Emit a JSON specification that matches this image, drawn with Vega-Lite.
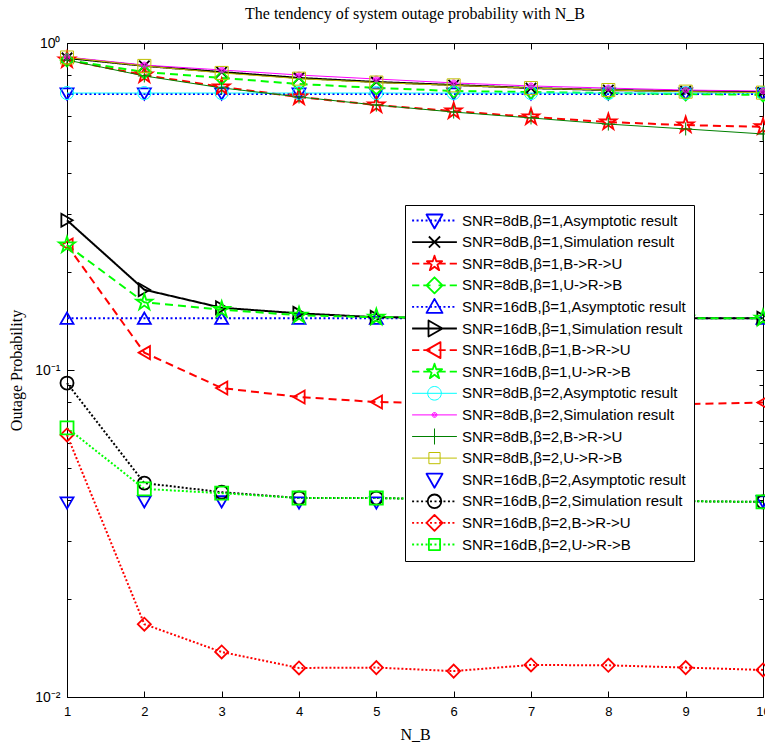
{
  "$schema": "https://vega.github.io/schema/vega-lite/v6.json",
  "width": 696,
  "height": 654,
  "autosize": {"type": "none"},
  "padding": {"left": 67, "top": 43, "right": 2, "bottom": 53},
  "background": "white",
  "title": {"text": "The tendency of system outage probability with N_B", "font": "Liberation Serif", "fontSize": 16, "fontWeight": "normal", "color": "black", "offset": 14, "anchor": "middle"},
  "config": {
    "view": {"stroke": "black", "strokeWidth": 1},
    "axis": {"grid": false, "domainColor": "black", "tickColor": "black", "labelColor": "black", "titleColor": "black", "labelFont": "Liberation Sans", "labelFontSize": 13, "titleFont": "Liberation Serif", "titleFontSize": 16, "titleFontWeight": "normal"}
  },
  "data": {"values": [
    {"s":"SNR=8dB,β=1,Asymptotic result","n":1,"p":0.698},{"s":"SNR=8dB,β=1,Asymptotic result","n":2,"p":0.698},{"s":"SNR=8dB,β=1,Asymptotic result","n":3,"p":0.698},{"s":"SNR=8dB,β=1,Asymptotic result","n":4,"p":0.698},{"s":"SNR=8dB,β=1,Asymptotic result","n":5,"p":0.698},{"s":"SNR=8dB,β=1,Asymptotic result","n":6,"p":0.698},{"s":"SNR=8dB,β=1,Asymptotic result","n":7,"p":0.698},{"s":"SNR=8dB,β=1,Asymptotic result","n":8,"p":0.698},{"s":"SNR=8dB,β=1,Asymptotic result","n":9,"p":0.698},{"s":"SNR=8dB,β=1,Asymptotic result","n":10,"p":0.698},
    {"s":"SNR=8dB,β=1,Simulation result","n":1,"p":0.900},{"s":"SNR=8dB,β=1,Simulation result","n":2,"p":0.851},{"s":"SNR=8dB,β=1,Simulation result","n":3,"p":0.815},{"s":"SNR=8dB,β=1,Simulation result","n":4,"p":0.782},{"s":"SNR=8dB,β=1,Simulation result","n":5,"p":0.760},{"s":"SNR=8dB,β=1,Simulation result","n":6,"p":0.744},{"s":"SNR=8dB,β=1,Simulation result","n":7,"p":0.728},{"s":"SNR=8dB,β=1,Simulation result","n":8,"p":0.718},{"s":"SNR=8dB,β=1,Simulation result","n":9,"p":0.713},{"s":"SNR=8dB,β=1,Simulation result","n":10,"p":0.707},
    {"s":"SNR=8dB,β=1,B->R->U","n":1,"p":0.887},{"s":"SNR=8dB,β=1,B->R->U","n":2,"p":0.798},{"s":"SNR=8dB,β=1,B->R->U","n":3,"p":0.734},{"s":"SNR=8dB,β=1,B->R->U","n":4,"p":0.684},{"s":"SNR=8dB,β=1,B->R->U","n":5,"p":0.646},{"s":"SNR=8dB,β=1,B->R->U","n":6,"p":0.619},{"s":"SNR=8dB,β=1,B->R->U","n":7,"p":0.594},{"s":"SNR=8dB,β=1,B->R->U","n":8,"p":0.573},{"s":"SNR=8dB,β=1,B->R->U","n":9,"p":0.561},{"s":"SNR=8dB,β=1,B->R->U","n":10,"p":0.554},
    {"s":"SNR=8dB,β=1,U->R->B","n":1,"p":0.887},{"s":"SNR=8dB,β=1,U->R->B","n":2,"p":0.815},{"s":"SNR=8dB,β=1,U->R->B","n":3,"p":0.782},{"s":"SNR=8dB,β=1,U->R->B","n":4,"p":0.749},{"s":"SNR=8dB,β=1,U->R->B","n":5,"p":0.729},{"s":"SNR=8dB,β=1,U->R->B","n":6,"p":0.713},{"s":"SNR=8dB,β=1,U->R->B","n":7,"p":0.708},{"s":"SNR=8dB,β=1,U->R->B","n":8,"p":0.703},{"s":"SNR=8dB,β=1,U->R->B","n":9,"p":0.698},{"s":"SNR=8dB,β=1,U->R->B","n":10,"p":0.694},
    {"s":"SNR=16dB,β=1,Asymptotic result","n":1,"p":0.144},{"s":"SNR=16dB,β=1,Asymptotic result","n":2,"p":0.144},{"s":"SNR=16dB,β=1,Asymptotic result","n":3,"p":0.144},{"s":"SNR=16dB,β=1,Asymptotic result","n":4,"p":0.144},{"s":"SNR=16dB,β=1,Asymptotic result","n":5,"p":0.144},{"s":"SNR=16dB,β=1,Asymptotic result","n":6,"p":0.144},{"s":"SNR=16dB,β=1,Asymptotic result","n":7,"p":0.144},{"s":"SNR=16dB,β=1,Asymptotic result","n":8,"p":0.144},{"s":"SNR=16dB,β=1,Asymptotic result","n":9,"p":0.144},{"s":"SNR=16dB,β=1,Asymptotic result","n":10,"p":0.144},
    {"s":"SNR=16dB,β=1,Simulation result","n":1,"p":0.287},{"s":"SNR=16dB,β=1,Simulation result","n":2,"p":0.176},{"s":"SNR=16dB,β=1,Simulation result","n":3,"p":0.155},{"s":"SNR=16dB,β=1,Simulation result","n":4,"p":0.149},{"s":"SNR=16dB,β=1,Simulation result","n":5,"p":0.145},{"s":"SNR=16dB,β=1,Simulation result","n":6,"p":0.1445},{"s":"SNR=16dB,β=1,Simulation result","n":7,"p":0.1443},{"s":"SNR=16dB,β=1,Simulation result","n":8,"p":0.1442},{"s":"SNR=16dB,β=1,Simulation result","n":9,"p":0.1441},{"s":"SNR=16dB,β=1,Simulation result","n":10,"p":0.144},
    {"s":"SNR=16dB,β=1,B->R->U","n":1,"p":0.241},{"s":"SNR=16dB,β=1,B->R->U","n":2,"p":0.113},{"s":"SNR=16dB,β=1,B->R->U","n":3,"p":0.0881},{"s":"SNR=16dB,β=1,B->R->U","n":4,"p":0.0827},{"s":"SNR=16dB,β=1,B->R->U","n":5,"p":0.0798},{"s":"SNR=16dB,β=1,B->R->U","n":6,"p":0.0792},{"s":"SNR=16dB,β=1,B->R->U","n":7,"p":0.0788},{"s":"SNR=16dB,β=1,B->R->U","n":8,"p":0.0786},{"s":"SNR=16dB,β=1,B->R->U","n":9,"p":0.0787},{"s":"SNR=16dB,β=1,B->R->U","n":10,"p":0.0795},
    {"s":"SNR=16dB,β=1,U->R->B","n":1,"p":0.241},{"s":"SNR=16dB,β=1,U->R->B","n":2,"p":0.161},{"s":"SNR=16dB,β=1,U->R->B","n":3,"p":0.153},{"s":"SNR=16dB,β=1,U->R->B","n":4,"p":0.147},{"s":"SNR=16dB,β=1,U->R->B","n":5,"p":0.145},{"s":"SNR=16dB,β=1,U->R->B","n":6,"p":0.1445},{"s":"SNR=16dB,β=1,U->R->B","n":7,"p":0.1442},{"s":"SNR=16dB,β=1,U->R->B","n":8,"p":0.1441},{"s":"SNR=16dB,β=1,U->R->B","n":9,"p":0.144},{"s":"SNR=16dB,β=1,U->R->B","n":10,"p":0.144},
    {"s":"SNR=8dB,β=2,Asymptotic result","n":1,"p":0.703},{"s":"SNR=8dB,β=2,Asymptotic result","n":2,"p":0.703},{"s":"SNR=8dB,β=2,Asymptotic result","n":3,"p":0.703},{"s":"SNR=8dB,β=2,Asymptotic result","n":4,"p":0.703},{"s":"SNR=8dB,β=2,Asymptotic result","n":5,"p":0.703},{"s":"SNR=8dB,β=2,Asymptotic result","n":6,"p":0.703},{"s":"SNR=8dB,β=2,Asymptotic result","n":7,"p":0.703},{"s":"SNR=8dB,β=2,Asymptotic result","n":8,"p":0.703},{"s":"SNR=8dB,β=2,Asymptotic result","n":9,"p":0.703},{"s":"SNR=8dB,β=2,Asymptotic result","n":10,"p":0.703},
    {"s":"SNR=8dB,β=2,Simulation result","n":1,"p":0.906},{"s":"SNR=8dB,β=2,Simulation result","n":2,"p":0.856},{"s":"SNR=8dB,β=2,Simulation result","n":3,"p":0.827},{"s":"SNR=8dB,β=2,Simulation result","n":4,"p":0.798},{"s":"SNR=8dB,β=2,Simulation result","n":5,"p":0.776},{"s":"SNR=8dB,β=2,Simulation result","n":6,"p":0.755},{"s":"SNR=8dB,β=2,Simulation result","n":7,"p":0.739},{"s":"SNR=8dB,β=2,Simulation result","n":8,"p":0.728},{"s":"SNR=8dB,β=2,Simulation result","n":9,"p":0.718},{"s":"SNR=8dB,β=2,Simulation result","n":10,"p":0.713},
    {"s":"SNR=8dB,β=2,B->R->U","n":1,"p":0.887},{"s":"SNR=8dB,β=2,B->R->U","n":2,"p":0.793},{"s":"SNR=8dB,β=2,B->R->U","n":3,"p":0.729},{"s":"SNR=8dB,β=2,B->R->U","n":4,"p":0.684},{"s":"SNR=8dB,β=2,B->R->U","n":5,"p":0.646},{"s":"SNR=8dB,β=2,B->R->U","n":6,"p":0.615},{"s":"SNR=8dB,β=2,B->R->U","n":7,"p":0.590},{"s":"SNR=8dB,β=2,B->R->U","n":8,"p":0.565},{"s":"SNR=8dB,β=2,B->R->U","n":9,"p":0.546},{"s":"SNR=8dB,β=2,B->R->U","n":10,"p":0.527},
    {"s":"SNR=8dB,β=2,U->R->B","n":1,"p":0.903},{"s":"SNR=8dB,β=2,U->R->B","n":2,"p":0.851},{"s":"SNR=8dB,β=2,U->R->B","n":3,"p":0.810},{"s":"SNR=8dB,β=2,U->R->B","n":4,"p":0.778},{"s":"SNR=8dB,β=2,U->R->B","n":5,"p":0.757},{"s":"SNR=8dB,β=2,U->R->B","n":6,"p":0.742},{"s":"SNR=8dB,β=2,U->R->B","n":7,"p":0.728},{"s":"SNR=8dB,β=2,U->R->B","n":8,"p":0.718},{"s":"SNR=8dB,β=2,U->R->B","n":9,"p":0.710},{"s":"SNR=8dB,β=2,U->R->B","n":10,"p":0.705},
    {"s":"SNR=16dB,β=2,Asymptotic result","n":1,"p":0.0392},{"s":"SNR=16dB,β=2,Asymptotic result","n":2,"p":0.0395},{"s":"SNR=16dB,β=2,Asymptotic result","n":3,"p":0.0395},{"s":"SNR=16dB,β=2,Asymptotic result","n":4,"p":0.0392},{"s":"SNR=16dB,β=2,Asymptotic result","n":5,"p":0.0392},{"s":"SNR=16dB,β=2,Asymptotic result","n":6,"p":0.0394},{"s":"SNR=16dB,β=2,Asymptotic result","n":7,"p":0.0395},{"s":"SNR=16dB,β=2,Asymptotic result","n":8,"p":0.0395},{"s":"SNR=16dB,β=2,Asymptotic result","n":9,"p":0.0395},{"s":"SNR=16dB,β=2,Asymptotic result","n":10,"p":0.0395},
    {"s":"SNR=16dB,β=2,Simulation result","n":1,"p":0.0912},{"s":"SNR=16dB,β=2,Simulation result","n":2,"p":0.0451},{"s":"SNR=16dB,β=2,Simulation result","n":3,"p":0.0423},{"s":"SNR=16dB,β=2,Simulation result","n":4,"p":0.0406},{"s":"SNR=16dB,β=2,Simulation result","n":5,"p":0.0406},{"s":"SNR=16dB,β=2,Simulation result","n":6,"p":0.0402},{"s":"SNR=16dB,β=2,Simulation result","n":7,"p":0.0400},{"s":"SNR=16dB,β=2,Simulation result","n":8,"p":0.0398},{"s":"SNR=16dB,β=2,Simulation result","n":9,"p":0.0397},{"s":"SNR=16dB,β=2,Simulation result","n":10,"p":0.0395},
    {"s":"SNR=16dB,β=2,B->R->U","n":1,"p":0.0633},{"s":"SNR=16dB,β=2,B->R->U","n":2,"p":0.0167},{"s":"SNR=16dB,β=2,B->R->U","n":3,"p":0.01373},{"s":"SNR=16dB,β=2,B->R->U","n":4,"p":0.01227},{"s":"SNR=16dB,β=2,B->R->U","n":5,"p":0.0123},{"s":"SNR=16dB,β=2,B->R->U","n":6,"p":0.0120},{"s":"SNR=16dB,β=2,B->R->U","n":7,"p":0.01253},{"s":"SNR=16dB,β=2,B->R->U","n":8,"p":0.0125},{"s":"SNR=16dB,β=2,B->R->U","n":9,"p":0.0123},{"s":"SNR=16dB,β=2,B->R->U","n":10,"p":0.0121},
    {"s":"SNR=16dB,β=2,U->R->B","n":1,"p":0.0665},{"s":"SNR=16dB,β=2,U->R->B","n":2,"p":0.0433},{"s":"SNR=16dB,β=2,U->R->B","n":3,"p":0.042},{"s":"SNR=16dB,β=2,U->R->B","n":4,"p":0.0406},{"s":"SNR=16dB,β=2,U->R->B","n":5,"p":0.0406},{"s":"SNR=16dB,β=2,U->R->B","n":6,"p":0.0402},{"s":"SNR=16dB,β=2,U->R->B","n":7,"p":0.0400},{"s":"SNR=16dB,β=2,U->R->B","n":8,"p":0.0398},{"s":"SNR=16dB,β=2,U->R->B","n":9,"p":0.0397},{"s":"SNR=16dB,β=2,U->R->B","n":10,"p":0.0395}
  ]},
  "layer": [
    {
      "transform": [{"filter": {"not": {"field": "s", "oneOf": ["SNR=8dB,β=2,Asymptotic result","SNR=8dB,β=2,Simulation result","SNR=8dB,β=2,B->R->U","SNR=8dB,β=2,U->R->B","SNR=16dB,β=2,Asymptotic result"]}}}],
      "mark": {"type": "line", "strokeWidth": 2, "clip": false},
      "encoding": {
        "x": {"field": "n", "type": "quantitative", "scale": {"domain": [1, 10], "nice": false, "zero": false},
              "axis": {"orient": "bottom", "values": [1,2,3,4,5,6,7,8,9,10], "format": "d", "tickSize": -6, "labelPadding": 14, "labelFlush": false, "title": "N_B", "titlePadding": 8}},
        "y": {"field": "p", "type": "quantitative", "scale": {"type": "log", "domain": [0.01, 1], "nice": false},
              "axis": {"orient": "left", "values": [0.01,0.02,0.03,0.04,0.05,0.06,0.07,0.08,0.09,0.1,0.2,0.3,0.4,0.5,0.6,0.7,0.8,0.9,1],
                       "labelExpr": "datum.value == 1 ? '10⁰' : datum.value == 0.1 ? '10⁻¹' : datum.value == 0.01 ? '10⁻²' : ''",
                       "tickSize": {"condition": {"test": "datum.value == 1 || datum.value == 0.1 || datum.value == 0.01", "value": -7}, "value": -4},
                       "labelFontSize": 14, "labelPadding": 14, "labelFlush": false, "labelOverlap": false, "title": "Outage Probability", "titlePadding": 10}},
        "stroke": {"field": "s", "type": "nominal", "legend": null,
                  "scale": {"domain": ["SNR=16dB,β=2,U->R->B","SNR=16dB,β=2,B->R->U","SNR=16dB,β=2,Simulation result","SNR=16dB,β=2,Asymptotic result","SNR=8dB,β=2,U->R->B","SNR=8dB,β=2,B->R->U","SNR=8dB,β=2,Simulation result","SNR=8dB,β=2,Asymptotic result","SNR=16dB,β=1,U->R->B","SNR=16dB,β=1,B->R->U","SNR=16dB,β=1,Simulation result","SNR=16dB,β=1,Asymptotic result","SNR=8dB,β=1,U->R->B","SNR=8dB,β=1,B->R->U","SNR=8dB,β=1,Simulation result","SNR=8dB,β=1,Asymptotic result"],
                            "range": ["#00ff00","#ff0000","#000000","#0000ff","#bfbf00","#008000","#ff00ff","#00ffff","#00ff00","#ff0000","#000000","#0000ff","#00ff00","#ff0000","#000000","#0000ff"]}},
        "strokeDash": {"field": "s", "type": "nominal", "legend": null,
                  "scale": {"domain": ["SNR=8dB,β=1,Asymptotic result","SNR=8dB,β=1,Simulation result","SNR=8dB,β=1,B->R->U","SNR=8dB,β=1,U->R->B","SNR=16dB,β=1,Asymptotic result","SNR=16dB,β=1,Simulation result","SNR=16dB,β=1,B->R->U","SNR=16dB,β=1,U->R->B","SNR=16dB,β=2,Simulation result","SNR=16dB,β=2,B->R->U","SNR=16dB,β=2,U->R->B"],
                            "range": [[2,2.5],[1,0],[8,5],[8,5],[2,2.5],[1,0],[8,5],[8,5],[2,2],[2,2],[2,2]]}}
      }
    },
    {
      "transform": [{"filter": {"field": "s", "oneOf": ["SNR=8dB,β=2,Asymptotic result","SNR=8dB,β=2,Simulation result","SNR=8dB,β=2,B->R->U","SNR=8dB,β=2,U->R->B"]}}],
      "mark": {"type": "line", "strokeWidth": 1, "clip": false},
      "encoding": {
        "x": {"field": "n", "type": "quantitative", "scale": {"domain": [1, 10], "nice": false, "zero": false},
              "axis": {"orient": "top", "values": [1,2,3,4,5,6,7,8,9,10], "tickSize": -6, "labels": false, "title": null}},
        "y": {"field": "p", "type": "quantitative", "scale": {"type": "log", "domain": [0.01, 1], "nice": false},
              "axis": {"orient": "right", "values": [0.01,0.02,0.03,0.04,0.05,0.06,0.07,0.08,0.09,0.1,0.2,0.3,0.4,0.5,0.6,0.7,0.8,0.9,1],
                       "tickSize": {"condition": {"test": "datum.value == 1 || datum.value == 0.1 || datum.value == 0.01", "value": -7}, "value": -4},
                       "labels": false, "title": null}},
        "stroke": {"field": "s", "type": "nominal", "legend": null}
      }
    },
    {
      "mark": {"type": "point", "filled": false, "size": 170, "opacity": 1, "clip": false},
      "encoding": {
        "x": {"field": "n", "type": "quantitative", "axis": null},
        "y": {"field": "p", "type": "quantitative", "axis": null},
        "strokeWidth": {"condition": {"test": {"field": "s", "oneOf": ["SNR=8dB,β=2,Asymptotic result","SNR=8dB,β=2,Simulation result","SNR=8dB,β=2,B->R->U","SNR=8dB,β=2,U->R->B"]}, "value": 1}, "value": 1.8},
        "color": {"field": "s", "type": "nominal",
                  "scale": {"domain": ["SNR=8dB,β=1,Asymptotic result","SNR=8dB,β=1,Simulation result","SNR=8dB,β=1,B->R->U","SNR=8dB,β=1,U->R->B","SNR=16dB,β=1,Asymptotic result","SNR=16dB,β=1,Simulation result","SNR=16dB,β=1,B->R->U","SNR=16dB,β=1,U->R->B","SNR=8dB,β=2,Asymptotic result","SNR=8dB,β=2,Simulation result","SNR=8dB,β=2,B->R->U","SNR=8dB,β=2,U->R->B","SNR=16dB,β=2,Asymptotic result","SNR=16dB,β=2,Simulation result","SNR=16dB,β=2,B->R->U","SNR=16dB,β=2,U->R->B"],
                            "range": ["#0000ff","#000000","#ff0000","#00ff00","#0000ff","#000000","#ff0000","#00ff00","#00ffff","#ff00ff","#008000","#bfbf00","#0000ff","#000000","#ff0000","#00ff00"]},
                  "legend": {"title": null, "orient": "none", "legendX": 338, "legendY": 162, "direction": "vertical",
                             "fillColor": "white", "strokeColor": "black", "padding": 8, "cornerRadius": 0,
                             "labelFont": "Liberation Sans", "labelFontSize": 15, "labelColor": "black", "labelLimit": 400,
                             "symbolSize": 256, "symbolOffset": 14, "labelOffset": 20, "rowPadding": 2.6, "gridAlign": "all",
                             "encoding": {"symbols": {
                               "opacity": {"value": 1},
                               "fill": {"value": "transparent"},
                               "size": {"value": 256},
                               "strokeJoin": {"value": "round"},
                               "strokeWidth": {"value": {"expr": "indexof(['SNR=8dB,β=2,Asymptotic result','SNR=8dB,β=2,Simulation result','SNR=8dB,β=2,B->R->U','SNR=8dB,β=2,U->R->B'], datum.value) >= 0 ? 1 : 1.8"}},
                               "shape": {"value": {"expr": "['M-2.8,0h0.25M-2.24,0h0.25M-1.68,0h0.25M-1.12,0h0.25M-0.56,0h0.25M0,0h0.25M0.56,0h0.25M1.12,0h0.25M1.68,0h0.25M2.24,0h0.25M-1,-0.75L1,-0.75L0,1Z', 'M-2.8,0H2.8M-0.7,-0.7L0.7,0.7M-0.7,0.7L0.7,-0.7', 'M-2.8,0h0.9M-1.4,0h0.9M0.5,0h0.9M1.9,0h0.9M0,-1L0.223,-0.307L0.951,-0.309L0.361,0.117L0.588,0.809L0,0.38L-0.588,0.809L-0.361,0.117L-0.951,-0.309L-0.223,-0.307Z', 'M-2.8,0h0.9M-1.4,0h0.9M0.5,0h0.9M1.9,0h0.9M0,-1L1,0L0,1L-1,0Z', 'M-2.8,0h0.25M-2.24,0h0.25M-1.68,0h0.25M-1.12,0h0.25M-0.56,0h0.25M0,0h0.25M0.56,0h0.25M1.12,0h0.25M1.68,0h0.25M2.24,0h0.25M-1,0.75L1,0.75L0,-1Z', 'M-2.8,0H2.8M-0.75,-1L1,0L-0.75,1Z', 'M-2.8,0h0.9M-1.4,0h0.9M0.5,0h0.9M1.9,0h0.9M0.75,-1L-1,0L0.75,1Z', 'M-2.8,0h0.9M-1.4,0h0.9M0.5,0h0.9M1.9,0h0.9M0,-1L0.223,-0.307L0.951,-0.309L0.361,0.117L0.588,0.809L0,0.38L-0.588,0.809L-0.361,0.117L-0.951,-0.309L-0.223,-0.307Z', 'M-2.8,0H2.8M-0.85,0A0.85,0.85 0 1,0 0.85,0A0.85,0.85 0 1,0 -0.85,0', 'M-2.8,0H2.8M-0.3,0A0.3,0.3 0 1,0 0.3,0A0.3,0.3 0 1,0 -0.3,0M-0.15,0A0.15,0.15 0 1,0 0.15,0A0.15,0.15 0 1,0 -0.15,0', 'M-2.8,0H2.8M0,-1V1', 'M-2.8,0H2.8M-0.7,-0.7H0.7V0.7H-0.7Z', 'M-1,-0.75L1,-0.75L0,1Z', 'M-2.8,0h0.25M-2.24,0h0.25M-1.68,0h0.25M-1.12,0h0.25M-0.56,0h0.25M0,0h0.25M0.56,0h0.25M1.12,0h0.25M1.68,0h0.25M2.24,0h0.25M-0.85,0A0.85,0.85 0 1,0 0.85,0A0.85,0.85 0 1,0 -0.85,0', 'M-2.8,0h0.25M-2.24,0h0.25M-1.68,0h0.25M-1.12,0h0.25M-0.56,0h0.25M0,0h0.25M0.56,0h0.25M1.12,0h0.25M1.68,0h0.25M2.24,0h0.25M0,-1L1,0L0,1L-1,0Z', 'M-2.8,0h0.25M-2.24,0h0.25M-1.68,0h0.25M-1.12,0h0.25M-0.56,0h0.25M0,0h0.25M0.56,0h0.25M1.12,0h0.25M1.68,0h0.25M2.24,0h0.25M-0.7,-0.7H0.7V0.7H-0.7Z'][indexof(['SNR=8dB,β=1,Asymptotic result','SNR=8dB,β=1,Simulation result','SNR=8dB,β=1,B->R->U','SNR=8dB,β=1,U->R->B','SNR=16dB,β=1,Asymptotic result','SNR=16dB,β=1,Simulation result','SNR=16dB,β=1,B->R->U','SNR=16dB,β=1,U->R->B','SNR=8dB,β=2,Asymptotic result','SNR=8dB,β=2,Simulation result','SNR=8dB,β=2,B->R->U','SNR=8dB,β=2,U->R->B','SNR=16dB,β=2,Asymptotic result','SNR=16dB,β=2,Simulation result','SNR=16dB,β=2,B->R->U','SNR=16dB,β=2,U->R->B'], datum.value)]"}}
                             }}}},
        "shape": {"field": "s", "type": "nominal", "legend": null,
                  "scale": {"domain": ["SNR=16dB,β=2,U->R->B","SNR=16dB,β=2,B->R->U","SNR=16dB,β=2,Simulation result","SNR=16dB,β=2,Asymptotic result","SNR=8dB,β=2,U->R->B","SNR=8dB,β=2,B->R->U","SNR=8dB,β=2,Simulation result","SNR=8dB,β=2,Asymptotic result","SNR=16dB,β=1,U->R->B","SNR=16dB,β=1,B->R->U","SNR=16dB,β=1,Simulation result","SNR=16dB,β=1,Asymptotic result","SNR=8dB,β=1,U->R->B","SNR=8dB,β=1,B->R->U","SNR=8dB,β=1,Simulation result","SNR=8dB,β=1,Asymptotic result"],
                            "range": ["square", "diamond", "circle", "triangle-down", "square", "M-1,0H1M0,-1V1", "M-0.45,0A0.45,0.45 0 1,0 0.45,0A0.45,0.45 0 1,0 -0.45,0M-0.28,0A0.28,0.28 0 1,0 0.28,0A0.28,0.28 0 1,0 -0.28,0M-0.1,0A0.1,0.1 0 1,0 0.1,0A0.1,0.1 0 1,0 -0.1,0", "circle", "M0,-1.3L0.29,-0.4L1.236,-0.402L0.469,0.152L0.764,1.052L0,0.494L-0.764,1.052L-0.469,0.152L-1.236,-0.402L-0.29,-0.4Z", "triangle-left", "triangle-right", "triangle-up", "diamond", "M0,-1.3L0.29,-0.4L1.236,-0.402L0.469,0.152L0.764,1.052L0,0.494L-0.764,1.052L-0.469,0.152L-1.236,-0.402L-0.29,-0.4Z", "M-0.8,-0.8L0.8,0.8M-0.8,0.8L0.8,-0.8", "triangle-down"]}}
      }
    }
  ]
}
